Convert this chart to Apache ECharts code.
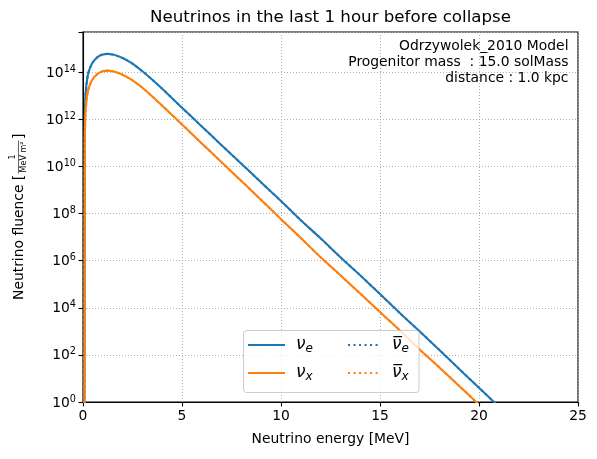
<!DOCTYPE html>
<html>
<head>
<meta charset="utf-8">
<script src="https://cdn.jsdelivr.net/npm/echarts@6/dist/echarts.min.js"></script>
<style>
html,body{margin:0;padding:0;background:#fff;}
#chart{width:597px;height:459px;}
</style>
</head>
<body>
<div id="chart"></div>
<script>
// ---- data ----
const energy = [0.07, 0.09, 0.12, 0.17, 0.25, 0.35, 0.5, 0.75, 1.0, 1.25, 1.5, 1.75, 2.0, 2.25, 2.5, 3.0, 3.5, 4.0,
  5, 6, 7, 8, 9, 10, 11, 12, 13, 14, 15, 16, 17, 18, 19, 20, 21];
const fluenceNuE = [0.1, 6.3e11, 7.9e12, 2.8e13, 8.0e13, 1.5e14, 2.7e14, 4.5e14, 5.6e14, 6.0e14, 5.6e14, 4.9e14, 4.0e14, 3.1e14, 2.3e14, 1.1e14, 4.8e13, 2.0e13,
  3.1e12, 5.0e11, 7.9e10, 1.3e10, 2.1e9, 3.4e8, 5.2e7, 8.9e6, 1.4e6, 2.4e5, 3.8e4, 6.0e3, 1.0e3, 1.6e2, 25, 4.0, 0.63];
const fluenceNuX = [0.1, 1.0e11, 1.4e12, 5.6e12, 1.6e13, 3.0e13, 5.2e13, 8.7e13, 1.1e14, 1.17e14, 1.1e14, 9.5e13, 7.8e13, 6.0e13, 4.5e13, 2.2e13, 9.4e12, 3.8e12,
  6.1e11, 9.5e10, 1.5e10, 2.4e9, 3.8e8, 5.8e7, 9.1e6, 1.4e6, 2.4e5, 4.0e4, 6.6e3, 1.1e3, 1.7e2, 29, 4.8, 0.76, 0.12];
// antineutrino curves coincide with the neutrino curves in the reference
const fluenceNuEBar = fluenceNuE;
const fluenceNuXBar = fluenceNuX;
const xTicks = [0, 5, 10, 15, 20, 25];
const yTickExponents = [0, 2, 4, 6, 8, 10, 12, 14];
const seriesNames = ['nu_e', 'nu_e_bar', 'nu_x', 'nu_x_bar'];
const titleText = 'Neutrinos in the last 1 hour before collapse';
const infoLines = ['Odrzywolek_2010 Model', 'Progenitor mass  : 15.0 solMass', 'distance : 1.0 kpc'];
const xLabel = 'Neutrino energy [MeV]';
const yLabel = 'Neutrino fluence [';

const FONT = '"DejaVu Sans", sans-serif';
const BLUE = '#1f77b4', ORANGE = '#ff7f0e';
const LW = 2.08;
const DOT = [2.08, 3.43];

function pairs(xs, ys) { return xs.map((x, i) => [x, ys[i]]); }

const chart = echarts.init(document.getElementById('chart'), null, {renderer: 'canvas'});

const legendRich = {
  nu: {fontFamily: FONT, fontStyle: 'italic', fontSize: 17, color: '#000', lineHeight: 22, padding: [0, 0, 0, 6], verticalAlign: 'middle'},
  sub: {fontFamily: FONT, fontStyle: 'italic', fontSize: 12, color: '#000', lineHeight: 22, padding: [8, 0, 0, 0]}
};
function legendFmt(name) {
  const bar = name.endsWith('_bar');
  const flav = name.indexOf('_e') >= 0 ? 'e' : 'x';
  return '{nu|' + (bar ? '\u03BD\u0305' : '\u03BD') + '}{sub|' + flav + '}';
}

const option = {
  animation: false,
  backgroundColor: '#fff',
  grid: {left: 83, right: 19, top: 32, bottom: 57, show: true, borderColor: '#000', borderWidth: 1.1, backgroundColor: 'transparent'},
  xAxis: {
    type: 'value', min: xTicks[0], max: xTicks[xTicks.length - 1], interval: 5,
    axisLine: {lineStyle: {color: '#000', width: 1.1}},
    axisTick: {show: true, length: 4.5, lineStyle: {color: '#000', width: 1.1}},
    axisLabel: {color: '#000', fontFamily: FONT, fontSize: 13.89, margin: 7},
    splitLine: {show: true, lineStyle: {color: '#b0b0b0', width: 1, type: [1, 2]}}
  },
  yAxis: {
    type: 'log', logBase: 10, min: Math.pow(10, yTickExponents[0]), max: 5.1e15, interval: 2,
    axisLine: {lineStyle: {color: '#000', width: 1.1}},
    axisTick: {show: true, length: 4.5, lineStyle: {color: '#000', width: 1.1}},
    axisLabel: {
      color: '#000', margin: 7,
      formatter: function (v) {
        const e = Math.log10(v);
        const r = Math.round(e);
        if (Math.abs(e - r) > 0.01 || yTickExponents.indexOf(r) < 0) return '';
        return '{b|10}{s|' + r + '}';
      },
      rich: {
        b: {fontFamily: FONT, fontSize: 13.89, color: '#000', lineHeight: 16, verticalAlign: 'bottom', padding: [3, 0, 0, 0]},
        s: {fontFamily: FONT, fontSize: 9.7, color: '#000', lineHeight: 11, verticalAlign: 'top'}
      }
    },
    splitLine: {show: true, lineStyle: {color: '#b0b0b0', width: 1, type: [1, 2]}}
  },
  legend: [
    {
      data: [seriesNames[0], seriesNames[2]], orient: 'vertical', left: 247, top: 335, padding: 0,
      itemWidth: 37, itemHeight: 20, itemGap: 8, z: 20,
      itemStyle: {opacity: 0, borderWidth: 0},
      formatter: legendFmt, textStyle: {rich: legendRich}
    },
    {
      data: [seriesNames[1], seriesNames[3]], orient: 'vertical', left: 347, top: 335, padding: 0,
      itemWidth: 33, itemHeight: 20, itemGap: 8, z: 20,
      itemStyle: {opacity: 0, borderWidth: 0},
      formatter: legendFmt, textStyle: {rich: legendRich}
    }
  ],
  series: [
    {name: seriesNames[0], type: 'line', data: pairs(energy, fluenceNuE), symbol: 'none', clip: true, smooth: 0.2,
      lineStyle: {color: BLUE, width: LW}, itemStyle: {color: BLUE}, z: 2},
    {name: seriesNames[1], type: 'line', data: pairs(energy, fluenceNuEBar), symbol: 'none', clip: true, smooth: 0.2,
      lineStyle: {color: BLUE, width: LW, type: DOT}, itemStyle: {color: BLUE}, z: 3},
    {name: seriesNames[2], type: 'line', data: pairs(energy, fluenceNuX), symbol: 'none', clip: true, smooth: 0.2,
      lineStyle: {color: ORANGE, width: LW}, itemStyle: {color: ORANGE}, z: 4},
    {name: seriesNames[3], type: 'line', data: pairs(energy, fluenceNuXBar), symbol: 'none', clip: true, smooth: 0.2,
      lineStyle: {color: ORANGE, width: LW, type: DOT}, itemStyle: {color: ORANGE}, z: 5}
  ],
  graphic: [
    {type: 'text', x: 330.5, y: 18, z: 30, style: {text: titleText, font: '16.67px ' + FONT, fill: '#000', align: 'center', verticalAlign: 'middle'}},
    {type: 'text', x: 568.5, y: 39, z: 30, style: {text: infoLines.join('\n'), font: '13.89px ' + FONT, fill: '#000', align: 'right', verticalAlign: 'top', lineHeight: 15.6}},
    {type: 'text', x: 330.5, y: 439, z: 30, style: {text: xLabel, font: '13.89px ' + FONT, fill: '#000', align: 'center', verticalAlign: 'middle'}},
    {type: 'group', x: 19, y: 300, rotation: Math.PI / 2, z: 30, children: [
      {type: 'text', x: 0, y: 0, style: {text: yLabel, font: '13.89px ' + FONT, fill: '#000', align: 'left', verticalAlign: 'middle'}},
      {type: 'text', x: 143, y: -6.5, style: {text: '1', font: '8px ' + FONT, fill: '#000', align: 'center', verticalAlign: 'middle'}},
      {type: 'line', shape: {x1: 126.5, y1: -0.5, x2: 159.5, y2: -0.5}, style: {stroke: '#000', lineWidth: 0.6}},
      {type: 'text', x: 143, y: 5, style: {text: 'MeV m\u00B2', font: '8px ' + FONT, fill: '#000', align: 'center', verticalAlign: 'middle'}},
      {type: 'text', x: 161, y: 0, style: {text: ']', font: '13.89px ' + FONT, fill: '#000', align: 'left', verticalAlign: 'middle'}}
    ]},
    {type: 'rect', z: 15, shape: {x: 243.5, y: 330.5, width: 175.5, height: 62, r: 3},
      style: {fill: 'rgba(255,255,255,0.8)', stroke: '#cccccc', lineWidth: 1}}
  ]
};
chart.setOption(option);
</script>
</body>
</html>
